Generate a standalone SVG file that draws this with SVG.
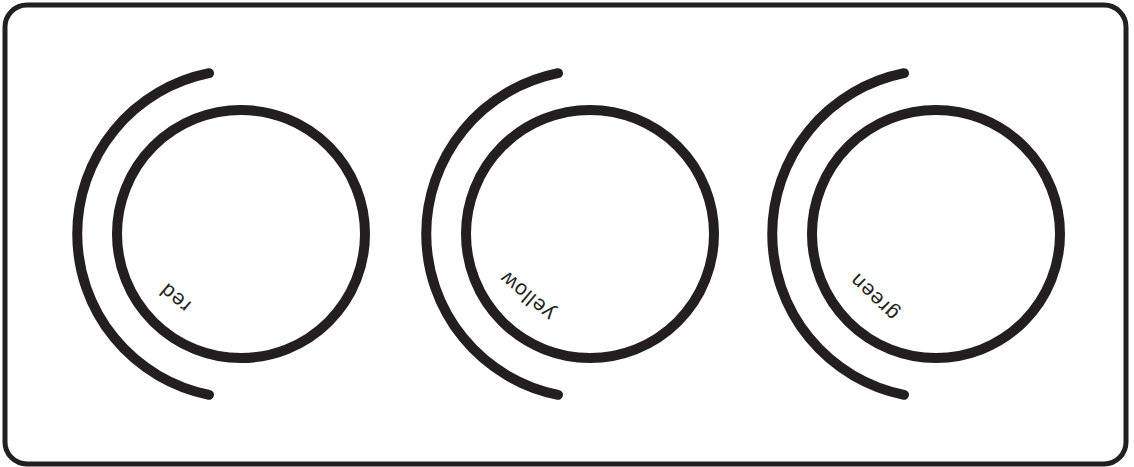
<svg xmlns="http://www.w3.org/2000/svg" width="1134" height="467" viewBox="0 0 1134 467">
  <style>
    .frame { fill: #ffffff; stroke: #231f20; stroke-width: 5; }
    .ring { fill: none; stroke: #231f20; stroke-width: 10; }
    .arc { fill: none; stroke: #231f20; stroke-width: 10; stroke-linecap: round; }
    .lbl { font-family: "Liberation Sans", Arial, sans-serif; font-size: 21px; letter-spacing: 1px; fill: #231f20; text-anchor: middle; }
  </style>
  <rect id="frame" class="frame" x="5" y="5" width="1121" height="459" rx="22" ry="22"/>
  <g id="node-red">
    <path class="arc" d="M 209 73.2 A 164 164 0 0 0 209 394.8"/>
    <circle class="ring" cx="241" cy="234" r="124"/>
    <text class="lbl" transform="translate(175 298) rotate(220)" y="7">red</text>
  </g>
  <g id="node-yellow">
    <path class="arc" d="M 558 73.2 A 164 164 0 0 0 558 394.8"/>
    <circle class="ring" cx="590" cy="234" r="124"/>
    <text class="lbl" transform="translate(527 296) rotate(220)" y="7">yellow</text>
  </g>
  <g id="node-green">
    <path class="arc" d="M 904 73.2 A 164 164 0 0 0 904 394.8"/>
    <circle class="ring" cx="936" cy="234" r="124"/>
    <text class="lbl" transform="translate(874 297) rotate(224)" y="7">green</text>
  </g>
  <g id="connectors"></g>
</svg>
